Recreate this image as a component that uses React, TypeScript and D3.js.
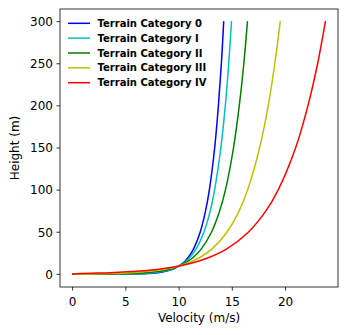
import React from "react";
import * as d3 from "d3";

const heights = [0, 1, 2, 3, 5, 7, 10, 15, 20, 30, 50, 75, 100, 150, 200, 250, 300];

const velCat0 = [0, 7.16, 8.02, 8.52, 9.15, 9.56, 10, 10.5, 10.85, 11.35, 11.98, 12.48, 12.84, 13.34, 13.69, 13.97, 14.19];
const velCatI = [0, 6.67, 7.67, 8.26, 9.0, 9.48, 10, 10.59, 11.0, 11.59, 12.33, 12.92, 13.33, 13.92, 14.34, 14.66, 14.92];
const velCatII = [0, 5.65, 6.96, 7.73, 8.69, 9.33, 10, 10.77, 11.31, 12.07, 13.04, 13.8, 14.35, 15.11, 15.65, 16.08, 16.42];
const velCatIII = [0, 3.57, 5.5, 6.63, 8.06, 9.0, 10, 11.13, 11.94, 13.07, 14.49, 15.63, 16.43, 17.56, 18.37, 18.99, 19.5];
const velCatIV = [0, 0.69, 3.5, 5.13, 7.2, 8.56, 10, 11.64, 12.8, 14.44, 16.5, 18.14, 19.3, 20.94, 22.1, 23.01, 23.74];

const seriesNames = ["Terrain Category 0", "Terrain Category I", "Terrain Category II", "Terrain Category III", "Terrain Category IV"];
const seriesColors = ["#0000ff", "#00bfbf", "#008000", "#bfbf00", "#ff0000"];
const seriesValues = [velCat0, velCatI, velCatII, velCatIII, velCatIV];

const xTicks = [0, 5, 10, 15, 20];
const yTicks = [0, 50, 100, 150, 200, 250, 300];

const W = 347;
const H = 335;
const left = 60;
const right = 338;
const top = 9;
const bottom = 287;
const font = "DejaVu Sans, sans-serif";

export default function App() {
  const allV = seriesValues.flat();
  const vMax = d3.max(allV) as number;
  const vMin = 0;
  const xPad = (vMax - vMin) * 0.05;
  const x = d3.scaleLinear().domain([vMin - xPad, vMax + xPad]).range([left, right]);
  const yPad = 300 * 0.05;
  const y = d3.scaleLinear().domain([0 - yPad, 300 + yPad]).range([bottom, top]);

  const line = d3
    .line<[number, number]>()
    .x((d) => x(d[0]))
    .y((d) => y(d[1]))
    .curve(d3.curveCatmullRom.alpha(0.5));

  return (
    <svg width={W} height={H} style={{ position: "absolute", left: 0, top: 0, background: "#fff" }}>
      <rect x={0} y={0} width={W} height={H} fill="#fff" />
      <defs>
        <clipPath id="plotclip">
          <rect x={left} y={top} width={right - left} height={bottom - top} />
        </clipPath>
      </defs>
      <g clipPath="url(#plotclip)">
        {seriesValues.map((vals, i) => (
          <path
            key={i}
            d={line(vals.map((v, j) => [v, heights[j]] as [number, number])) || ""}
            fill="none"
            stroke={seriesColors[i]}
            strokeWidth={1.5}
            strokeLinejoin="round"
            strokeLinecap="round"
          />
        ))}
      </g>
      {/* spines */}
      <rect x={left} y={top} width={right - left} height={bottom - top} fill="none" stroke="#000" strokeWidth={0.8} />
      {/* x ticks */}
      {xTicks.map((t) => (
        <g key={"x" + t}>
          <line x1={x(t)} x2={x(t)} y1={bottom} y2={bottom + 3.5} stroke="#000" strokeWidth={0.8} />
          <text x={x(t)} y={306} textAnchor="middle" fontFamily={font} fontSize={12} fill="#000">
            {t}
          </text>
        </g>
      ))}
      {/* y ticks */}
      {yTicks.map((t) => (
        <g key={"y" + t}>
          <line x1={left - 3.5} x2={left} y1={y(t)} y2={y(t)} stroke="#000" strokeWidth={0.8} />
          <text x={left - 7} y={y(t)} dy="0.36em" textAnchor="end" fontFamily={font} fontSize={12} fill="#000">
            {t}
          </text>
        </g>
      ))}
      <text x={(left + right) / 2} y={322} textAnchor="middle" fontFamily={font} fontSize={12} fill="#000">
        Velocity (m/s)
      </text>
      <text
        transform={`translate(19,${(top + bottom) / 2}) rotate(-90)`}
        textAnchor="middle"
        fontFamily={font}
        fontSize={12}
        fill="#000"
      >
        Height (m)
      </text>
      {/* legend */}
      {seriesNames.map((name, i) => {
        const cy = 23.3 + i * 14.85;
        return (
          <g key={"l" + i}>
            <line x1={68} x2={90} y1={cy} y2={cy} stroke={seriesColors[i]} strokeWidth={1.5} />
            <text x={97.5} y={cy} dy="0.36em" fontFamily={font} fontSize={10} fontWeight="bold" fill="#000">
              {name}
            </text>
          </g>
        );
      })}
    </svg>
  );
}
